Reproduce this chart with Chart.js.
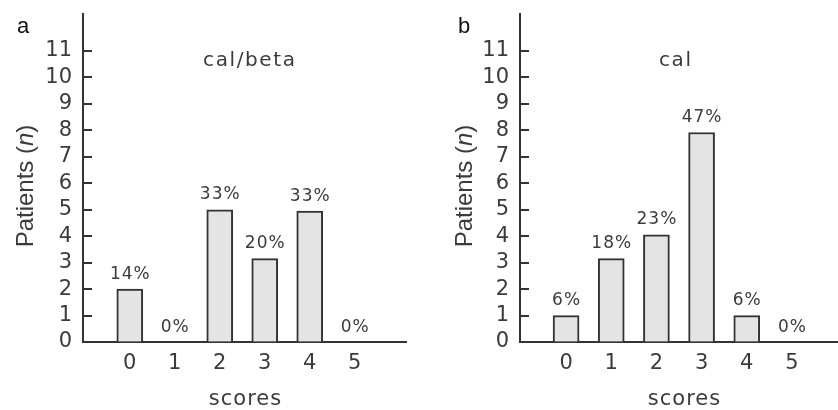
<!DOCTYPE html>
<html lang="en">
<head>
  <meta charset="UTF-8">
  <title>Patients by score: cal/beta vs cal</title>
  <script src="https://cdn.jsdelivr.net/npm/chart.js"></script>
  <style>
    html, body {margin:0; padding:0; background:#fff}
    .wrap {display:flex; width:838px; height:410px}
    .panel {width:419px; height:410px}
    canvas {display:block}
  </style>
</head>
<body>
<div class="wrap">
  <div class="panel"><canvas id="chartA" width="419" height="410"></canvas></div>
  <div class="panel"><canvas id="chartB" width="419" height="410"></canvas></div>
</div>

<script>
// data
const scores = [0, 1, 2, 3, 4, 5];
const yTicks = [0, 1, 2, 3, 4, 5, 6, 7, 8, 9, 10, 11];

const calBetaPatients = [2, 0, 5, 3.15, 4.95, 0];
const calBetaPct      = ['14%', '0%', '33%', '20%', '33%', '0%'];

const calPatients = [1, 3.15, 4.05, 7.92, 1, 0];
const calPct      = ['6%', '18%', '23%', '47%', '6%', '0%'];

const SANS = '"DejaVu Sans", sans-serif';
const HELV = '"Liberation Sans", Arial, sans-serif';
const INK = '#3b3b3b';

// extra text and inward tick marks
function textLayer(p) {
  return {
    id: 'textLayer',
    afterDraw(chart) {
      const ctx = chart.ctx;
      const yScale = chart.scales.y;
      ctx.save();

      // tick marks pointing into the plot
      ctx.strokeStyle = '#333';
      ctx.lineWidth = 2;
      yTicks.slice(1).forEach(v => {
        const py = Math.round(yScale.getPixelForValue(v));
        ctx.beginPath();
        ctx.moveTo(yScale.right, py);
        ctx.lineTo(yScale.right + 9, py);
        ctx.stroke();
      });

      // % above each bar
      ctx.fillStyle = INK;
      ctx.font = '17px ' + SANS;
      ctx.textAlign = 'center';
      ctx.textBaseline = 'alphabetic';
      ctx.letterSpacing = '1px';
      chart.getDatasetMeta(0).data.forEach((bar, i) => {
        ctx.fillText(p.pct[i], bar.x + 0.5, bar.y - 10.5);
      });

      // panel title
      ctx.font = '20px ' + SANS;
      ctx.letterSpacing = '1.6px';
      ctx.fillText(p.title, p.titleX + 0.8, 66);

      // x axis title
      ctx.font = '21px ' + SANS;
      ctx.letterSpacing = '1px';
      ctx.fillText('scores', p.scoresX + 0.5, 405);

      // panel letter
      ctx.letterSpacing = '0px';
      ctx.fillStyle = '#111';
      ctx.font = '22px ' + HELV;
      ctx.textAlign = 'left';
      ctx.fillText(p.letter, p.letterX, 33);

      // y axis title with italic n
      ctx.fillStyle = INK;
      ctx.translate(p.yTitleX, 186);
      ctx.rotate(-Math.PI / 2);
      const parts = [['Patients (', 'normal'], ['n', 'italic'], [')', 'normal']];
      let total = 0;
      parts.forEach(pt => { ctx.font = pt[1] + ' 24px ' + HELV; total += ctx.measureText(pt[0]).width; });
      let x = -total / 2;
      parts.forEach(pt => {
        ctx.font = pt[1] + ' 24px ' + HELV;
        ctx.fillText(pt[0], x, 0);
        x += ctx.measureText(pt[0]).width;
      });
      ctx.restore();
    }
  };
}

function makeChart(id, values, p) {
  return new Chart(document.getElementById(id), {
    type: 'bar',
    data: {
      datasets: [{
        data: scores.map((s, i) => ({x: s, y: values[i]})),
        backgroundColor: '#e4e4e4',
        borderColor: '#333',
        borderWidth: 2,
        barThickness: 26
      }]
    },
    options: {
      responsive: false,
      animation: false,
      layout: {padding: {top: 14, right: p.padRight, left: 0, bottom: 0}},
      plugins: {legend: {display: false}, tooltip: {enabled: false}},
      scales: {
        x: {
          type: 'linear',
          offset: false,
          min: p.xMin,
          max: p.xMax,
          afterFit: s => { s.height = 68; s.paddingLeft = 0; s.paddingRight = 0; },
          afterBuildTicks: s => { s.ticks = scores.map(v => ({value: v})); },
          grid: {display: false, drawTicks: false},
          border: {color: '#333', width: 2},
          ticks: {
            padding: 9,
            color: INK,
            font: {family: SANS, size: 21},
            autoSkip: false,
            maxRotation: 0,
            callback: v => String(v)
          }
        },
        y: {
          min: 0,
          max: 12.4,
          afterFit: s => { s.width = p.axisX; s.paddingTop = 0; s.paddingBottom = 0; },
          afterBuildTicks: s => { s.ticks = yTicks.map(v => ({value: v})); },
          grid: {drawOnChartArea: false, drawTicks: false},
          border: {color: '#333', width: 2},
          ticks: {
            padding: 11,
            color: INK,
            autoSkip: false,
            font: {family: SANS, size: 21},
            callback: v => String(v)
          }
        }
      }
    },
    plugins: [textLayer(p)]
  });
}

makeChart('chartA', calBetaPatients, {
  pct: calBetaPct, title: 'cal/beta', letter: 'a',
  axisX: 83, padRight: 13, xMin: -1.04, xMax: 6.14,
  titleX: 249, scoresX: 245, letterX: 17, yTitleX: 33
});

makeChart('chartB', calPatients, {
  pct: calPct, title: 'cal', letter: 'b',
  axisX: 101, padRight: 0, xMin: -1.02, xMax: 6.02,
  titleX: 256, scoresX: 265, letterX: 39, yTitleX: 52.5
});
</script>
</body>
</html>
